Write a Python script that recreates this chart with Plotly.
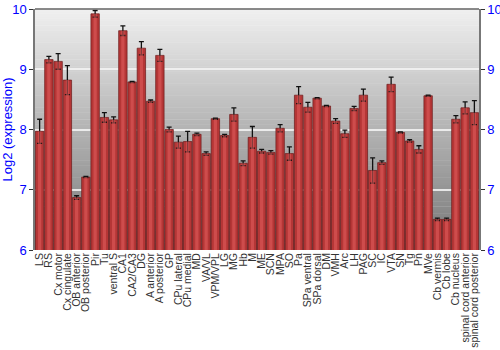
import plotly.graph_objects as go

categories = ["LS", "RS", "Cx motor", "Cx cingulate", "OB anterior", "OB posterior", "Pir", "Tu",
              "ventral S", "CA1", "CA2/CA3", "DG", "A anterior", "A posterior", "GP", "CPu lateral",
              "CPu medial", "MD", "VA/VL", "VPM/VPL", "LG", "MG", "Hb", "M", "ME", "SCN", "MPA", "SO",
              "Pa", "SPa ventral", "SPa dorsal", "DM", "VMH", "Arc", "LH", "PAG", "SC", "IC", "VTA",
              "SN", "Tg", "Pn", "MVe", "Cb vermis", "Cb lobe", "Cb nucleus", "spinal cord anterior",
              "spinal cord posterior"]

values = [7.97, 9.16, 9.13, 8.82, 6.87, 7.21, 9.92, 8.20, 8.16, 9.64, 8.79, 9.35, 8.47, 9.23,
          8.00, 7.79, 7.80, 7.92, 7.60, 8.18, 7.90, 8.25, 7.44, 7.87, 7.64, 7.62, 8.02, 7.60,
          8.57, 8.37, 8.52, 8.39, 8.14, 7.93, 8.35, 8.57, 7.32, 7.45, 8.75, 7.95, 7.81, 7.67,
          8.56, 6.51, 6.51, 8.17, 8.36, 8.28]

errors = [0.20, 0.055, 0.13, 0.24, 0.03, 0.01, 0.055, 0.08, 0.05, 0.08, 0.01, 0.11, 0.02, 0.10,
          0.04, 0.10, 0.17, 0.02, 0.03, 0.01, 0.02, 0.11, 0.04, 0.18, 0.03, 0.03, 0.06, 0.11,
          0.14, 0.08, 0.01, 0.01, 0.04, 0.06, 0.035, 0.10, 0.21, 0.03, 0.12, 0.01, 0.02, 0.06,
          0.01, 0.02, 0.02, 0.06, 0.10, 0.20]

y_ticks = [6, 7, 8, 9, 10]
y_title = "Log2 (expression)"

fig = go.Figure()

fig.add_trace(go.Bar(
    x=categories, y=values,
    marker=dict(color="#b53636", line=dict(color="#6a1a1a", width=0.7)),
    error_y=dict(type="data", array=errors, color="#111111", thickness=1.3, width=2.5),
    showlegend=False,
))
# lighter center highlight for cylinder look
fig.add_trace(go.Bar(
    x=categories, y=values, width=0.35,
    marker=dict(color="rgba(225,95,95,0.55)", line=dict(width=0)),
    showlegend=False, hoverinfo="skip",
))
# invisible trace on right axis
fig.add_trace(go.Scatter(x=[categories[0]], y=[6], yaxis="y2", mode="markers",
                         marker=dict(opacity=0), showlegend=False, hoverinfo="skip"))

# vertical gradient background
n = 100
shapes = []
for i in range(n):
    t = i / n
    c = int(round(240 - (240 - 118) * (1 - t - 0.5 / n)))
    shapes.append(dict(type="rect", xref="paper", yref="paper", x0=0, x1=1,
                       y0=t, y1=(i + 1) / n + 0.002, line=dict(width=0),
                       fillcolor=f"rgb({c},{c},{c})", layer="below"))
shapes.append(dict(type="line", xref="paper", yref="paper", x0=0, x1=1, y0=1, y1=1,
                   line=dict(color="#666666", width=1.5)))

fig.update_layout(
    width=500, height=350,
    margin=dict(l=35, r=21, t=9, b=100),
    paper_bgcolor="white", plot_bgcolor="rgba(0,0,0,0)",
    barmode="overlay", bargap=0.09,
    font=dict(family="Liberation Sans, Arial, sans-serif"),
    shapes=shapes,
    xaxis=dict(tickangle=-90, tickfont=dict(size=10.5, color="#333333"), showgrid=False,
               tickmode="array", tickvals=categories, ticktext=categories,
               ticks="", showline=False, range=[-0.5, len(categories) - 0.5],
               automargin=False),
    yaxis=dict(range=[6, 10], tickvals=y_ticks, tickfont=dict(size=13, color="#0000ff"),
               title=dict(text=y_title, font=dict(size=13, color="#0000ff"), standoff=6),
               showgrid=True, gridcolor="rgba(245,245,245,0.85)", gridwidth=2,
               showline=True, linecolor="#777777", linewidth=1.5,
               ticks="outside", ticklen=4, tickcolor="#333333", zeroline=False,
               automargin=False),
    yaxis2=dict(range=[6, 10], tickvals=y_ticks, overlaying="y", side="right",
                tickfont=dict(size=13, color="#0000ff"), showgrid=False,
                showline=True, linecolor="#777777", linewidth=1.5,
                ticks="outside", ticklen=4, tickcolor="#333333", zeroline=False,
                automargin=False),
)

fig.write_html("out.html")
